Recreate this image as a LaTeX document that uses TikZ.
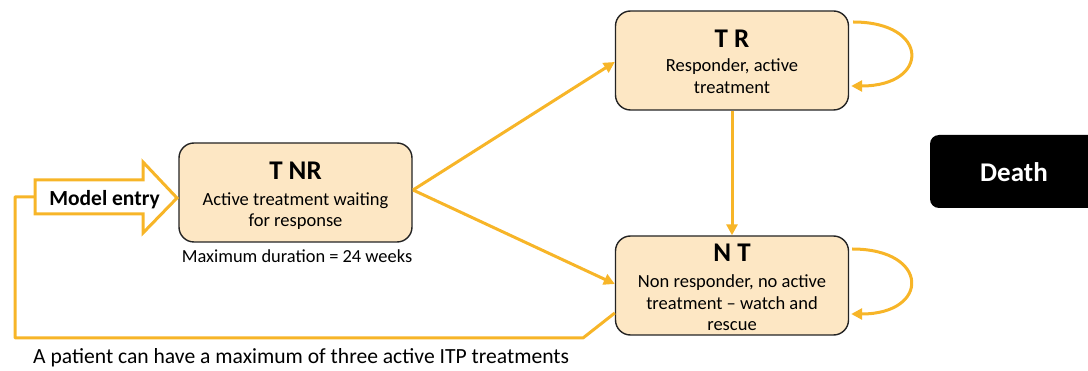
\documentclass[tikz,border=0pt]{standalone}
\usepackage{fontspec}
\setmainfont{Carlito}
\usetikzlibrary{arrows.meta}
\definecolor{flow}{RGB}{247,181,40}
\definecolor{boxfill}{RGB}{253,231,196}
\definecolor{boxline}{RGB}{35,35,35}
\begin{document}
\begin{tikzpicture}[x=1pt,y=-1pt,
  statebox/.style={draw=boxline,line width=1.4pt,fill=boxfill,rounded corners=15pt,
    minimum width=233pt,minimum height=99pt,inner sep=0pt},
  deathbox/.style={fill=black,rounded corners=9pt,minimum width=168pt,minimum height=73pt,inner sep=0pt},
  ttl/.style={font=\fontsize{27}{30}\selectfont\bfseries,anchor=base,inner sep=0pt},
  body/.style={font=\fontsize{18.5}{21.5}\selectfont,align=center,anchor=base,inner sep=0pt},
  note/.style={font=\fontsize{18.4}{21.5}\selectfont,inner sep=0pt},
  flowline/.style={draw=flow,line width=3pt},
  flowarrow/.style={flowline,-{Triangle[length=11pt,width=11pt]}},
]
\useasboundingbox (0,0) rectangle (1088,371);

% states
\node[statebox] (tnr) at (295.5,192.5) {};
\node[statebox] (tr) at (732,60.5) {};
\node[statebox] (nt) at (732,285.5) {};
\node[deathbox] (death) at (1014,171.5) {};

% state labels (body text is anchored at the baseline of its last line)
\node[ttl] (tnrT) at (295.5,180) {T NR};
\node[body] (tnrB) at (295.5,226.7) {Active treatment waiting\\for response};
\node[ttl] (trT) at (732,48) {T R};
\node[body] (trB) at (732,93.3) {Responder, active\\treatment};
\node[ttl] (ntT) at (732,262) {N T};
\node[body] (ntB) at (732,331) {Non responder, no active\\treatment -- watch and\\rescue};
\node[font=\fontsize{27}{30}\selectfont\bfseries,text=white,anchor=base,inner sep=0pt] (deathT) at (1014,182) {Death};

% entry arrow (outlined block arrow)
\draw[flowline,line join=miter] (35,180) -- (143,180) -- (143,162) -- (177,198)
  -- (143,233) -- (143,214) -- (35,214) -- cycle;
\coordinate (entryTail) at (35,197);
\node[font=\fontsize{21.5}{24}\selectfont\bfseries,anchor=base,inner sep=0pt] (entryT) at (104.5,206) {Model entry};

% transitions
\coordinate (split) at (413,190);
\draw[flowarrow] (split) -- (tr.west |- 0,62);
\draw[flowarrow] (split) -- (nt.west |- 0,284);
\draw[flowarrow] (tr.south) -- (nt.north);
\draw[flowarrow] ([xshift=4pt]tr.north east |- 0,22) .. controls (930,22) and (930,86) .. ([xshift=2pt]tr.east |- 0,86);
\draw[flowarrow] ([xshift=3pt]nt.east |- 0,249) .. controls (930,249) and (930,314) .. ([xshift=2pt]nt.east |- 0,314);

% return to a new line of treatment
\draw[flowline,line join=round] (nt.west |- 0,313) -- (583,338) -- (15,338) -- (15,197) -- (entryTail);

% notes
\node[note,anchor=base] (dur) at (297,263) {Maximum duration = 24 weeks};
\node[note,anchor=base west,font=\fontsize{21.6}{24}\selectfont] (limit) at (33,364) {A patient can have a maximum of three active ITP treatments};
\end{tikzpicture}
\end{document}
